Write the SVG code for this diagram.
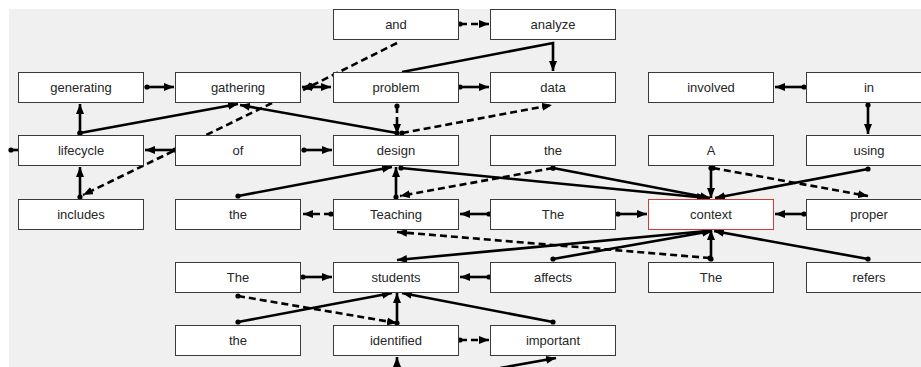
<svg xmlns="http://www.w3.org/2000/svg" width="921" height="367" viewBox="0 0 921 367">
  <style>
    .bg { fill: #f0f0f0; }
    .node rect { fill: #ffffff; stroke: #3a3a3a; stroke-width: 1; }
    .node.focus rect { stroke: #d23a3a; }
    .node text { font-family: "Liberation Sans", Arial, sans-serif; font-size: 13px; fill: #262626; text-anchor: middle; }
    .edge { fill: none; stroke: #000000; stroke-width: 2.6; marker-start: url(#dot); marker-end: url(#arrow); }
    .dash { stroke-dasharray: 7 4; }
  </style>
  <defs>
    <marker id="arrow" viewBox="0 0 10 8" refX="10" refY="4" markerWidth="10" markerHeight="8" markerUnits="userSpaceOnUse" orient="auto">
      <path d="M0,0 L10,4 L0,8 Z" fill="#000000"/>
    </marker>
    <marker id="arrow2" viewBox="0 0 10 8" refX="10" refY="4" markerWidth="10" markerHeight="8" markerUnits="userSpaceOnUse" orient="auto-start-reverse">
      <path d="M0,0 L10,4 L0,8 Z" fill="#000000"/>
    </marker>
    <marker id="dot" viewBox="0 0 6 6" refX="3" refY="3" markerWidth="6" markerHeight="6" markerUnits="userSpaceOnUse">
      <circle cx="3" cy="3" r="2.6" fill="#000000"/>
    </marker>
  </defs>

  <rect x="0" y="0" width="921" height="367" fill="#ffffff"/>
  <rect class="bg" x="9" y="9" width="912" height="358"/>

  <g id="connectors">
    <!-- top rows -->
    <line class="edge dash" x1="460" y1="24" x2="489" y2="24"/>
    <polyline class="edge" points="402,72 553,43 553,71" style="marker-start:none"/>
    <line class="edge" x1="460" y1="87" x2="489" y2="87"/>
    <line class="edge" x1="147" y1="87" x2="174" y2="87"/>
    <line class="edge" x1="331" y1="87" x2="302" y2="87" style="marker-start:url(#arrow2)"/>
    <line class="edge dash" x1="397" y1="43" x2="303" y2="90" style="marker-start:none"/>
    <line class="edge" x1="80" y1="133" x2="80" y2="104"/>
    <line class="edge" x1="80" y1="133" x2="238" y2="104"/>
    <line class="edge" x1="397" y1="133" x2="240" y2="105"/>
    <line class="edge dash" x1="272" y1="103" x2="83" y2="195" style="marker-start:none"/>
    <line class="edge" x1="80" y1="197" x2="80" y2="167"/>
    <line class="edge" x1="175" y1="150" x2="145" y2="150"/>
    <line class="edge" x1="11" y1="150" x2="18" y2="150" style="marker-end:none"/>
    <line class="edge" x1="304" y1="150" x2="332" y2="150"/>
    <line class="edge dash" x1="397" y1="106" x2="397" y2="134"/>
    <line class="edge dash" x1="402" y1="133" x2="552" y2="105"/>
    <line class="edge" x1="868" y1="105" x2="868" y2="134"/>
    <line class="edge" x1="804" y1="87" x2="775" y2="87"/>

    <!-- middle rows -->
    <line class="edge" x1="396" y1="197" x2="396" y2="167"/>
    <line class="edge" x1="238" y1="196" x2="392" y2="167"/>
    <line class="edge" x1="401" y1="168" x2="707" y2="198"/>
    <line class="edge" x1="553" y1="168" x2="710" y2="198"/>
    <line class="edge dash" x1="553" y1="168" x2="400" y2="196"/>
    <line class="edge" x1="711" y1="168" x2="711" y2="198"/>
    <line class="edge dash" x1="713" y1="168" x2="868" y2="196"/>
    <line class="edge" x1="868" y1="169" x2="715" y2="198"/>
    <line class="edge dash" x1="331" y1="214" x2="303" y2="214"/>
    <line class="edge" x1="489" y1="214" x2="460" y2="214"/>
    <line class="edge" x1="618" y1="214" x2="647" y2="214"/>
    <line class="edge" x1="804" y1="214" x2="775" y2="214"/>

    <!-- lower rows -->
    <line class="edge" x1="711" y1="259" x2="711" y2="230"/>
    <line class="edge dash" x1="710" y1="258" x2="397" y2="232"/>
    <line class="edge" x1="707" y1="231" x2="397" y2="260"/>
    <line class="edge" x1="553" y1="259" x2="712" y2="231"/>
    <line class="edge" x1="868" y1="259" x2="714" y2="231"/>
    <line class="edge" x1="303" y1="277" x2="332" y2="277"/>
    <line class="edge" x1="489" y1="277" x2="460" y2="277"/>
    <line class="edge" x1="397" y1="323" x2="397" y2="293"/>
    <line class="edge" x1="238" y1="322" x2="392" y2="293"/>
    <line class="edge" x1="553" y1="322" x2="402" y2="293"/>
    <line class="edge dash" x1="238" y1="296" x2="397" y2="323"/>
    <line class="edge dash" x1="460" y1="340" x2="489" y2="340"/>
    <line class="edge" x1="397" y1="369" x2="397" y2="357" style="marker-start:none"/>
    <line class="edge" x1="500" y1="368" x2="556" y2="358" style="marker-start:none"/>
  </g>

  <!-- row 1 -->
  <g id="n-and" class="node"><rect x="333.5" y="9.5" width="125" height="30"/><text x="396" y="29">and</text></g>
  <g id="n-analyze" class="node"><rect x="490.5" y="9.5" width="125" height="30"/><text x="553" y="29">analyze</text></g>
  <!-- row 2 -->
  <g id="n-generating" class="node"><rect x="18.5" y="72.5" width="125" height="30"/><text x="81" y="92">generating</text></g>
  <g id="n-gathering" class="node"><rect x="175.5" y="72.5" width="125" height="30"/><text x="238" y="92">gathering</text></g>
  <g id="n-problem" class="node"><rect x="333.5" y="72.5" width="125" height="30"/><text x="396" y="92">problem</text></g>
  <g id="n-data" class="node"><rect x="490.5" y="72.5" width="125" height="30"/><text x="553" y="92">data</text></g>
  <g id="n-involved" class="node"><rect x="648.5" y="72.5" width="125" height="30"/><text x="711" y="92">involved</text></g>
  <g id="n-in" class="node"><rect x="806.5" y="72.5" width="125" height="30"/><text x="869" y="92">in</text></g>
  <!-- row 3 -->
  <g id="n-lifecycle" class="node"><rect x="18.5" y="135.5" width="125" height="30"/><text x="81" y="155">lifecycle</text></g>
  <g id="n-of" class="node"><rect x="175.5" y="135.5" width="125" height="30"/><text x="238" y="155">of</text></g>
  <g id="n-design" class="node"><rect x="333.5" y="135.5" width="125" height="30"/><text x="396" y="155">design</text></g>
  <g id="n-the1" class="node"><rect x="490.5" y="135.5" width="125" height="30"/><text x="553" y="155">the</text></g>
  <g id="n-A" class="node"><rect x="648.5" y="135.5" width="125" height="30"/><text x="711" y="155">A</text></g>
  <g id="n-using" class="node"><rect x="806.5" y="135.5" width="125" height="30"/><text x="869" y="155">using</text></g>
  <!-- row 4 -->
  <g id="n-includes" class="node"><rect x="18.5" y="199.5" width="125" height="30"/><text x="81" y="219">includes</text></g>
  <g id="n-the2" class="node"><rect x="175.5" y="199.5" width="125" height="30"/><text x="238" y="219">the</text></g>
  <g id="n-Teaching" class="node"><rect x="333.5" y="199.5" width="125" height="30"/><text x="396" y="219">Teaching</text></g>
  <g id="n-The1" class="node"><rect x="490.5" y="199.5" width="125" height="30"/><text x="553" y="219">The</text></g>
  <g id="n-context" class="node focus"><rect x="648.5" y="199.5" width="125" height="30"/><text x="711" y="219">context</text></g>
  <g id="n-proper" class="node"><rect x="806.5" y="199.5" width="125" height="30"/><text x="869" y="219">proper</text></g>
  <!-- row 5 -->
  <g id="n-The2" class="node"><rect x="175.5" y="262.5" width="125" height="30"/><text x="238" y="282">The</text></g>
  <g id="n-students" class="node"><rect x="333.5" y="262.5" width="125" height="30"/><text x="396" y="282">students</text></g>
  <g id="n-affects" class="node"><rect x="490.5" y="262.5" width="125" height="30"/><text x="553" y="282">affects</text></g>
  <g id="n-The3" class="node"><rect x="648.5" y="262.5" width="125" height="30"/><text x="711" y="282">The</text></g>
  <g id="n-refers" class="node"><rect x="806.5" y="262.5" width="125" height="30"/><text x="869" y="282">refers</text></g>
  <!-- row 6 -->
  <g id="n-the3" class="node"><rect x="175.5" y="325.5" width="125" height="30"/><text x="238" y="345">the</text></g>
  <g id="n-identified" class="node"><rect x="333.5" y="325.5" width="125" height="30"/><text x="396" y="345">identified</text></g>
  <g id="n-important" class="node"><rect x="490.5" y="325.5" width="125" height="30"/><text x="553" y="345">important</text></g>
</svg>
